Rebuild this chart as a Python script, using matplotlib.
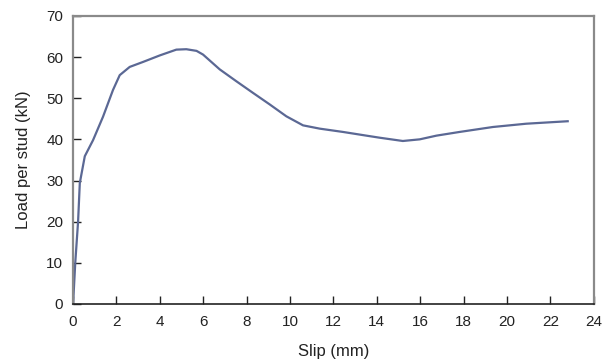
import matplotlib
matplotlib.use("Agg")
import matplotlib.pyplot as plt

slip = [0.0, 0.1, 0.23, 0.31, 0.54, 0.92, 1.38, 1.84, 2.15, 2.61, 3.22, 4.0, 4.76,
        5.22, 5.69, 5.99, 6.76, 7.53, 8.29, 9.06, 9.83, 10.6, 11.37, 12.44, 13.52,
        14.13, 15.2, 15.98, 16.75, 17.82, 19.35, 20.89, 22.8]
load = [0.0, 10.0, 20.0, 29.4, 35.9, 39.8, 45.5, 52.0, 55.6, 57.6, 58.8, 60.4, 61.8,
        61.9, 61.5, 60.6, 57.0, 54.1, 51.3, 48.5, 45.6, 43.4, 42.6, 41.8, 40.9,
        40.4, 39.6, 40.0, 40.9, 41.8, 43.0, 43.8, 44.4]
xticks = list(range(0, 25, 2))
yticks = list(range(0, 71, 10))

plt.rcParams['font.family'] = ['Liberation Sans', 'DejaVu Sans']
fig = plt.figure(figsize=(6.04, 3.61), dpi=100)
ax = fig.add_axes([0.121, 0.158, 0.862, 0.798])
ax.plot(slip, load, color='#5b6894', lw=1.6)
ax.set_xlim(0, 24)
ax.set_ylim(0, 70)
ax.set_xticks(xticks)
ax.set_yticks(yticks)
ax.tick_params(direction='in', length=6, width=1, labelsize=11, colors='#222222')
ax.tick_params(axis='y', pad=7)
ax.tick_params(axis='x', pad=8)
for i, t in enumerate(ax.yaxis.get_major_ticks()):
    if yticks[i] % 20 == 10:
        t.tick1line.set_color('#c8c8c8')
for s in ['top', 'right', 'left']:
    ax.spines[s].set_color('#8a8a8a')
    ax.spines[s].set_linewidth(1.6)
ax.spines['bottom'].set_color('#222222')
ax.spines['bottom'].set_linewidth(1.2)
ax.set_xlabel('Slip (mm)', fontsize=12, color='#222222', labelpad=11)
ax.set_ylabel('Load per stud (kN)', fontsize=12, color='#222222', labelpad=11)
fig.savefig('out.png', dpi=100)
